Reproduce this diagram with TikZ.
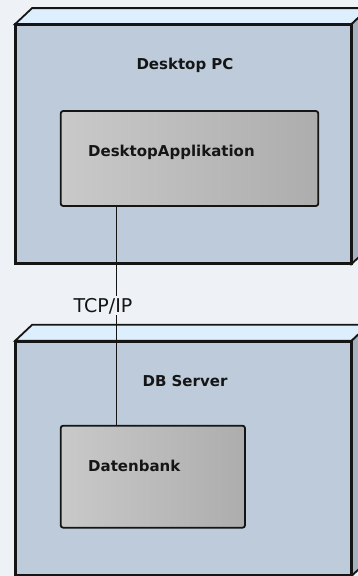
\documentclass[tikz,border=0pt]{standalone}
\usepackage{fontspec}
\setmainfont{DejaVu Sans}
\usetikzlibrary{calc}
\definecolor{bgc}{HTML}{EEF2F7}
\definecolor{frontc}{HTML}{BECBDB}
\definecolor{topc}{HTML}{DDEEFD}
\definecolor{sidec}{HTML}{A6B2C2}
\definecolor{boxl}{HTML}{C9C9C9}
\definecolor{boxr}{HTML}{ADADAD}
\definecolor{edge}{HTML}{151515}
\tikzset{
  front/.style={draw=edge, line width=1.8pt, fill=frontc, rectangle, inner sep=0pt},
  topface/.style={draw=edge, line width=1.8pt, fill=topc, line join=miter},
  sideface/.style={draw=edge, line width=1.8pt, fill=sidec, line join=miter},
  compbox/.style={draw=edge, line width=1.8pt, rectangle, rounded corners=2.5pt, left color=boxl, right color=boxr, inner sep=0pt},
  lbl/.style={font=\bfseries\fontsize{15}{18}\selectfont, text=edge, inner sep=0pt},
  conn/.style={draw=edge, line width=1.2pt},
  connlbl/.style={font=\fontsize{19}{22}\selectfont, text=edge, fill=bgc, inner sep=1.5pt, anchor=base west}
}
\begin{document}
\begin{tikzpicture}[x=1pt,y=-1pt]
\fill[bgc] (0,0) rectangle (358,576);
\useasboundingbox (0,0) rectangle (358,576);
% Desktop PC node
\node[front, minimum width=334.7pt, minimum height=238pt] (pc) at (183.35,144) {};
\draw[topface] (pc.north west) -- ($(pc.north west)+(17,-16)$) -- ($(pc.north east)+(17,-16)$) -- (pc.north east) -- cycle;
\draw[sideface] (pc.north east) -- ($(pc.north east)+(17,-16)$) -- ($(pc.south east)+(17,-16)$) -- (pc.south east) -- cycle;
\draw[draw=edge, line width=1.8pt] (pc.north west) rectangle (pc.south east);
% DB Server node
\node[front, minimum width=334.7pt, minimum height=233.3pt] (db) at (183.35,458.35) {};
\draw[topface] (db.north west) -- ($(db.north west)+(17,-16)$) -- ($(db.north east)+(17,-16)$) -- (db.north east) -- cycle;
\draw[sideface] (db.north east) -- ($(db.north east)+(17,-16)$) -- ($(db.south east)+(17,-16)$) -- (db.south east) -- cycle;
\draw[draw=edge, line width=1.8pt] (db.north west) rectangle (db.south east);
% components
\node[compbox, minimum width=257.6pt, minimum height=95pt] (app) at (189.5,158.5) {};
\node[compbox, minimum width=184.3pt, minimum height=102pt] (dbk) at (152.85,476.7) {};
% labels
\node[lbl, anchor=base] (pclbl) at (185,69) {Desktop PC};
\node[lbl, anchor=base west] (applbl) at (88,156) {DesktopApplikation};
\node[lbl, anchor=base] (dblbl) at (185,386.5) {DB Server};
\node[lbl, anchor=base west] (dbklbl) at (88,471) {Datenbank};
% connector
\coordinate (lx) at (116.3,0);
\draw[conn] (app.south -| lx) -- (dbk.north -| lx);
\node[connlbl] (tcp) at (72,312) {TCP/IP};
\end{tikzpicture}
\end{document}
